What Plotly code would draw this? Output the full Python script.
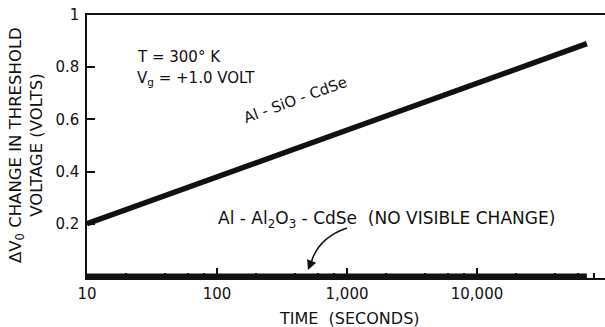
import math
import plotly.graph_objects as go

# ---- data ----
time_s = [10, 100, 1000, 10000, 70000]
sio_shift = [0.20, 0.38, 0.56, 0.74, 0.89]
al2o3_time = [10, 70000]
al2o3_shift = [0.0, 0.0]

x_tickvals = [10, 100, 1000, 10000]
x_ticktext = ["10", "100", "1,000", "10,000"]
x_minor = [20, 40, 60, 80, 200, 400, 600, 800, 2000, 4000, 6000, 8000,
           20000, 40000, 60000, 80000]
y_tickvals = [0.2, 0.4, 0.6, 0.8, 1.0]
y_ticktext = ["0.2", "0.4", "0.6", "0.8", "1"]

FONT = "DejaVu Sans"
INK = "#111111"

W, H = 605, 327
L, R, T, B = 87, 0, 15, 49
PW, PH = W - L - R, H - T - B


def px(xp):
    return (xp - L) / PW


def py(yp):
    return (H - B - yp) / PH


fig = go.Figure()
fig.add_trace(go.Scatter(x=time_s, y=sio_shift, mode="lines",
                         line=dict(color=INK, width=5.5), showlegend=False))
fig.add_trace(go.Scatter(x=al2o3_time, y=al2o3_shift, mode="lines",
                         line=dict(color=INK, width=5), showlegend=False))

fig.update_layout(
    width=W, height=H,
    margin=dict(l=L, r=R, t=T, b=B, autoexpand=False),
    paper_bgcolor="white", plot_bgcolor="white",
    font=dict(family=FONT, size=15, color=INK),
    xaxis=dict(
        type="log", range=[1, 1 + PW / 130.0], automargin=False,
        tickvals=x_tickvals, ticktext=x_ticktext,
        ticks="inside", ticklen=10, tickwidth=1.5, tickcolor=INK,
        minor=dict(tickvals=x_minor, ticks="inside", ticklen=5,
                   tickwidth=1.5, tickcolor=INK),
        showline=True, linecolor=INK, linewidth=1.5, mirror=True,
        showgrid=False, zeroline=False,
        tickfont=dict(size=15), ticklabelstandoff=1,
    ),
    yaxis=dict(
        range=[-0.008, 1.0], automargin=False,
        tickvals=y_tickvals, ticktext=y_ticktext,
        ticks="inside", ticklen=8, tickwidth=1.5, tickcolor=INK,
        showline=True, linecolor=INK, linewidth=1.5,
        showgrid=False, zeroline=False,
        tickfont=dict(size=15), ticklabelstandoff=3,
    ),
)

# axis titles
fig.add_annotation(x=px(349), y=py(318), xref="paper", yref="paper",
                   text="TIME  (SECONDS)", showarrow=False,
                   xanchor="center", yanchor="middle", font=dict(size=16))
fig.add_annotation(x=px(26), y=py(145), xref="paper", yref="paper",
                   text="ΔV<sub>0</sub> CHANGE IN THRESHOLD<br>VOLTAGE (VOLTS)",
                   showarrow=False, textangle=-90,
                   xanchor="center", yanchor="middle", font=dict(size=16.5))

fig.add_annotation(x=px(135), y=py(57), xref="paper", yref="paper",
                   text="T = 300° K", showarrow=False,
                   xanchor="left", yanchor="middle", font=dict(size=15))
fig.add_annotation(x=px(135), y=py(78), xref="paper", yref="paper",
                   text="V<sub>g</sub> = +1.0 VOLT", showarrow=False,
                   xanchor="left", yanchor="middle", font=dict(size=15))
fig.add_annotation(x=math.log10(400), y=0.675, xref="x", yref="y",
                   xanchor="center", yanchor="middle",
                   text="Al - SiO - CdSe", showarrow=False, textangle=-20,
                   font=dict(size=15))
fig.add_annotation(x=px(386), y=py(219), xref="paper", yref="paper",
                   text="Al - Al<sub>2</sub>O<sub>3</sub> - CdSe  (NO VISIBLE CHANGE)",
                   showarrow=False, xanchor="center", yanchor="middle",
                   font=dict(size=17))

# curved arrow
x0, y0 = px(347), py(228)
cx, cy = px(318), py(238)
x1, y1 = px(311), py(263)
fig.add_shape(type="path", xref="paper", yref="paper",
              path=f"M {x0} {y0} Q {cx} {cy} {x1} {y1}",
              line=dict(color=INK, width=1.5))
fig.add_annotation(x=px(308), y=py(270), xref="paper", yref="paper",
                   ax=4, ay=-10, text="", showarrow=True,
                   arrowhead=2, arrowsize=1.3, arrowwidth=1.5, arrowcolor=INK)

fig.write_html("out.html",
               config={"displayModeBar": False},
               post_script="document.body.style.margin='0';"
                           "document.body.style.padding='0';")
